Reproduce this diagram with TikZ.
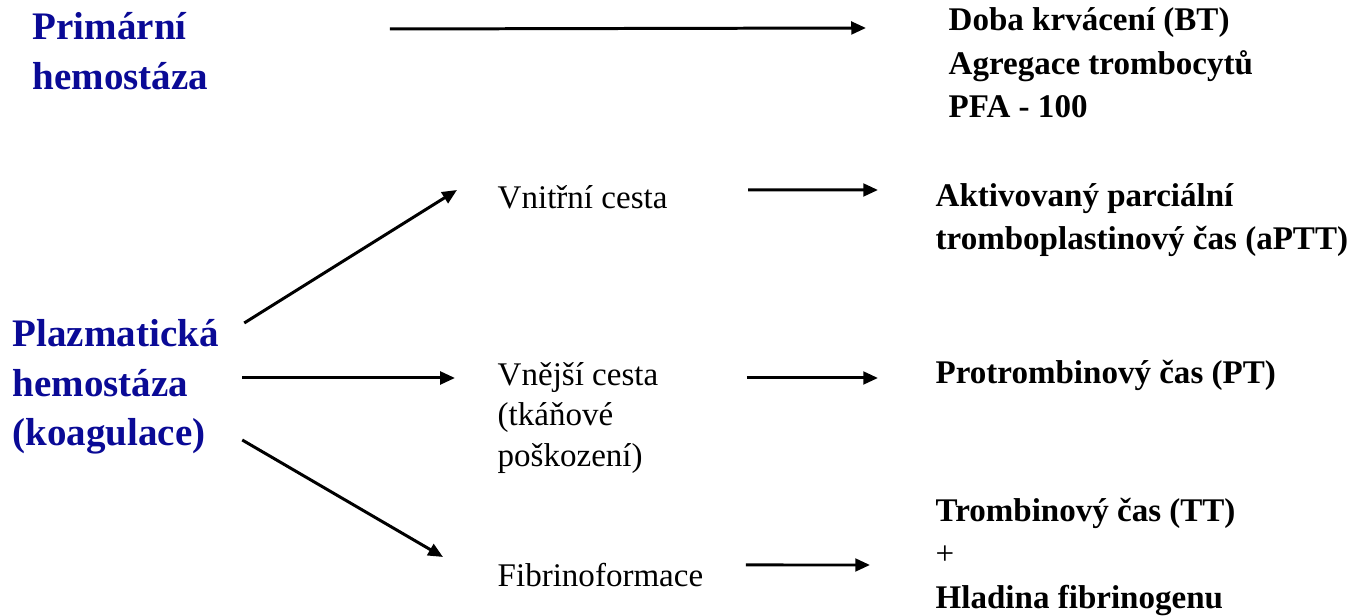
\documentclass[tikz,border=0pt]{standalone}
\usepackage{fontspec}
\setmainfont{Liberation Serif}
\usepackage{xcolor}
\usetikzlibrary{arrows.meta,positioning,calc}

\definecolor{hemoblue}{RGB}{10,10,150}

\begin{document}
\begin{tikzpicture}[
    inner sep=0pt,
    group/.style={anchor=west, align=left, text=hemoblue, font=\fontsize{11.1}{14.1}\selectfont\bfseries},
    way/.style={anchor=west, align=left, font=\fontsize{9.4}{11.4}\selectfont},
    test/.style={anchor=west, align=left, font=\fontsize{9.4}{12.4}\selectfont\bfseries},
    arr/.style={-{Triangle[length=4.2pt,width=3.6pt]}, line width=0.85pt}
]
\useasboundingbox (0,0) rectangle (13.51,-6.16);

% left column
\node[group] (prim) at (0.32,-0.51) {Primární\\hemostáza};
\node[group] (plaz) at (0.12,-3.87) {Plazmatická\\hemostáza\\(koagulace)};

% pathways
\node[way] (vnitr) at (4.97,-1.97) {Vnitřní cesta};
\node[way] (vnejsi) at (4.97,-4.18) {Vnější cesta\\(tkáňové\\poškození)};
\node[way] (fibr) at (4.97,-5.75) {Fibrinoformace};

% tests
\node[test] (bt) at (9.48,-0.63) {Doba krvácení (BT)\\Agregace trombocytů\\PFA - 100};
\node[test] (aptt) at (9.35,-2.20) {Aktivovaný parciální\\tromboplastinový čas (aPTT)};
\node[test] (pt) at (9.35,-3.75) {Protrombinový čas (PT)};
\node[test] (tt) at (9.35,-5.57) {Trombinový čas (TT)\\{\mdseries +}\\Hladina fibrinogenu};

% connectors
\draw[arr] ([shift={(1.81,0.22)}]prim.east) -- ([shift={(-0.82,0.35)}]bt.west);
\draw[arr] ([shift={(0.25,0.64)}]plaz.east) -- ([shift={(-0.40,0.07)}]vnitr.west);
\draw[arr] ([shift={(0.23,0.09)}]plaz.east) -- ([shift={(-0.42,0.40)}]vnejsi.west);
\draw[arr] ([shift={(0.23,-0.53)}]plaz.east) -- ([shift={(-0.54,0.18)}]fibr.west);
\draw[arr] ([shift={(0.80,0.07)}]vnitr.east) -- ([shift={(-0.57,0.30)}]aptt.west);
\draw[arr] ([shift={(0.88,0.40)}]vnejsi.east) -- ([shift={(-0.57,-0.03)}]pt.west);
\draw[arr] ([shift={(0.42,0.10)}]fibr.east) -- ([shift={(-0.65,-0.08)}]tt.west);
\end{tikzpicture}
\end{document}
